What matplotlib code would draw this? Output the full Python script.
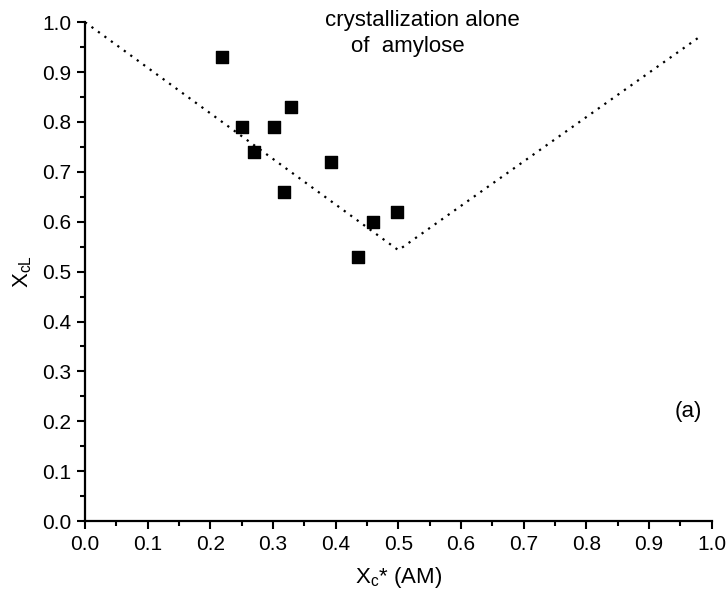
import numpy as np
import matplotlib

matplotlib.use("Agg")
import matplotlib.pyplot as plt
from matplotlib.ticker import MultipleLocator

plt.rcParams.update({
    "font.family": ["Liberation Sans", "DejaVu Sans"],
    "mathtext.fontset": "custom",
    "mathtext.rm": "Liberation Sans",
    "mathtext.it": "Liberation Sans",
    "mathtext.default": "regular",
    "font.size": 14,
})

# measured points
xc_am = [0.218, 0.250, 0.270, 0.301, 0.329, 0.317, 0.392, 0.459, 0.498, 0.436]
xcl = [0.930, 0.790, 0.740, 0.790, 0.830, 0.660, 0.719, 0.600, 0.620, 0.530]

# "crystallization alone of amylose" guide line
guide_x = [0.0, 0.50, 0.98]
guide_y = [1.0, 0.543, 0.97]

fig = plt.figure(figsize=(7.27, 5.99), dpi=100)
ax = fig.add_axes([0.117, 0.130, 0.862, 0.833])

ax.plot(guide_x, guide_y, color="black", linewidth=1.6,
        linestyle=(0, (1, 2.6)), zorder=2)
ax.scatter(xc_am, xcl, marker="s", s=68, color="black", zorder=3)

ax.set_xlim(0, 1.0)
ax.set_ylim(0, 1.0)
ax.xaxis.set_major_locator(MultipleLocator(0.1))
ax.xaxis.set_minor_locator(MultipleLocator(0.05))
ax.yaxis.set_major_locator(MultipleLocator(0.1))
ax.yaxis.set_minor_locator(MultipleLocator(0.05))
ax.xaxis.set_major_formatter(matplotlib.ticker.FormatStrFormatter("%.1f"))
ax.yaxis.set_major_formatter(matplotlib.ticker.FormatStrFormatter("%.1f"))
ax.tick_params(which="major", direction="out", length=6, width=1.5,
               labelsize=15, pad=4)
ax.tick_params(which="minor", direction="out", length=3.5, width=1.5)

for side in ("top", "right"):
    ax.spines[side].set_visible(False)
for side in ("left", "bottom"):
    ax.spines[side].set_linewidth(1.6)

ax.set_xlabel("X$_c$* (AM)", fontsize=16, labelpad=8)
ax.set_ylabel("X$_{cL}$", fontsize=16, labelpad=6)

ax.text(0.539, 1.003, "crystallization alone", ha="center", va="center",
        fontsize=16)
ax.text(0.515, 0.951, "of  amylose", ha="center", va="center", fontsize=16)
ax.text(0.963, 0.22, "(a)", ha="center", va="center", fontsize=16)

fig.savefig("out.png", dpi=100)
